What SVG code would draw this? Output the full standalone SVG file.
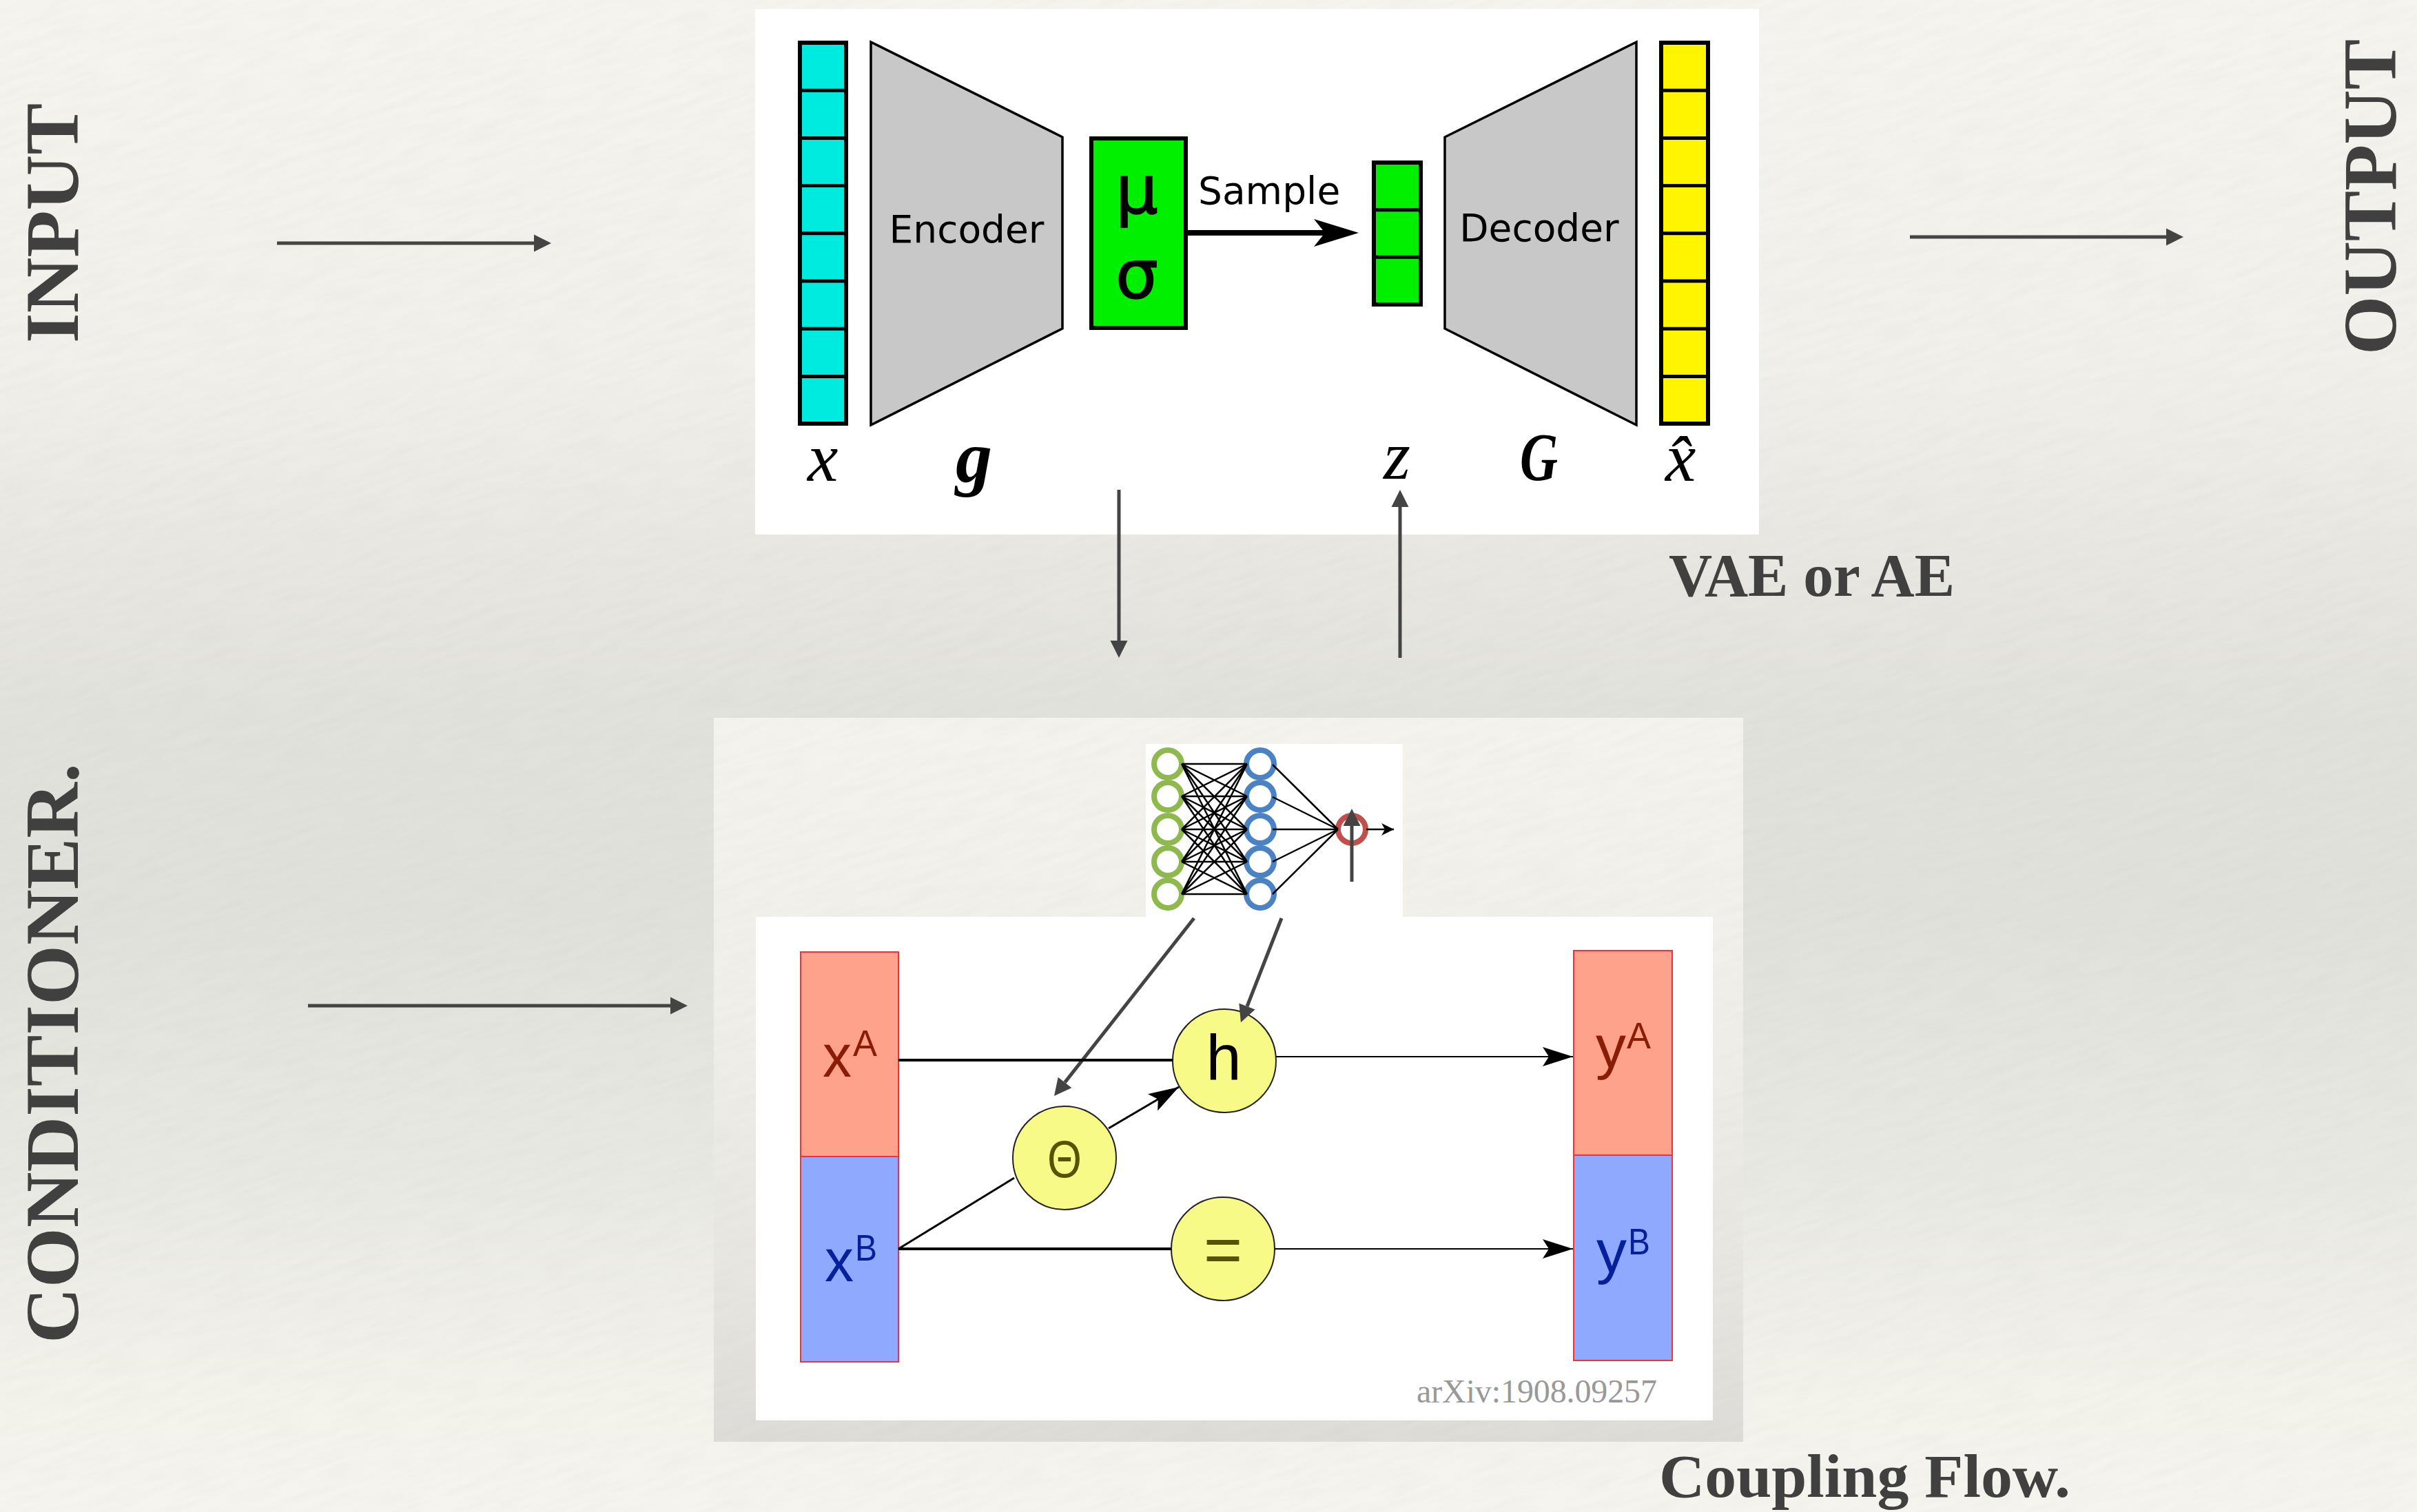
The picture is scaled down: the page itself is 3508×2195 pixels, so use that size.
<svg xmlns="http://www.w3.org/2000/svg" width="3508" height="2195" viewBox="0 0 3508 2195">
<style>
.ser{font-family:"Liberation Serif",serif;fill:#404040;font-weight:bold}
.math{font-family:"Liberation Serif",serif;font-style:italic;fill:#000;font-size:100px}
.dv{font-family:"DejaVu Sans",sans-serif;fill:#000}
.ls{font-family:"Liberation Sans",Arial,sans-serif}
.red{fill:#8a1c05}.blue{fill:#06209c}
.bar{stroke:#000;stroke-width:6}
.trap{fill:#c8c8c8;stroke:#000;stroke-width:3.5}
.div{stroke:#000;stroke-width:5;fill:none}
.cellr{fill:#ffa28c;stroke:#f5303a;stroke-width:2}
.cellb{fill:#8fa9ff;stroke:#f5303a;stroke-width:2}
.yc{fill:#f8fa88;stroke:#222;stroke-width:2}
.gr{stroke:#444;stroke-width:5;fill:none}
.bk{stroke:#000;fill:none}
.nn{fill:#fff;stroke-width:8}
</style>
<defs>
<linearGradient id="bg" gradientUnits="userSpaceOnUse" x1="0" y1="0" x2="0" y2="2195">
<stop offset="0" stop-color="#f5f4ee"/><stop offset=".24" stop-color="#f1f0ea"/><stop offset=".37" stop-color="#e8e7e1"/><stop offset=".47" stop-color="#e2e2dd"/><stop offset=".6" stop-color="#e1e1dc"/><stop offset=".78" stop-color="#e9e9e3"/><stop offset=".92" stop-color="#f3f3ec"/><stop offset="1" stop-color="#f5f4ee"/>
</linearGradient>
<linearGradient id="panel" gradientUnits="userSpaceOnUse" x1="0" y1="1042" x2="0" y2="2093">
<stop offset="0" stop-color="#f4f3ed"/><stop offset=".4" stop-color="#f0efe9"/><stop offset=".8" stop-color="#e6e5df"/><stop offset="1" stop-color="#dedcd8"/>
</linearGradient>
<filter id="paper" x="0" y="0" width="100%" height="100%" color-interpolation-filters="sRGB">
<feTurbulence type="fractalNoise" baseFrequency="0.015 0.1" numOctaves="3" seed="4"/>
<feColorMatrix type="matrix" values="0 0 0 0 .45  0 0 0 0 .45  0 0 0 0 .42  .06 0 0 0 -.02"/>
</filter>
<clipPath id="page"><rect width="3508" height="2195"/></clipPath>
<marker id="tri" markerUnits="userSpaceOnUse" markerWidth="26" markerHeight="26" refX="0" refY="13" orient="auto" overflow="visible"><path d="M0 0.5L25 13L0 25.5z" fill="#444"/></marker>
<marker id="sample" markerUnits="userSpaceOnUse" markerWidth="70" markerHeight="44" refX="16" refY="22" orient="auto" overflow="visible"><path d="M0 2L65 22L0 42L16 22z" fill="#000"/></marker>
<marker id="stealth" markerUnits="userSpaceOnUse" markerWidth="46" markerHeight="30" refX="44" refY="15" orient="auto" overflow="visible"><path d="M0 1L44 15L0 29L9 15z" fill="#000"/></marker>
<marker id="small" markerUnits="userSpaceOnUse" markerWidth="20" markerHeight="20" refX="18" refY="10" orient="auto" overflow="visible"><path d="M0 1L18 10L0 19L5 10z" fill="#000"/></marker>
</defs>

<rect width="3508" height="2195" fill="url(#bg)"/>
<rect x="1036" y="1042" width="1494" height="1051" fill="url(#panel)"/>
<g clip-path="url(#page)"><rect x="-700" y="-1000" width="4900" height="4200" filter="url(#paper)" transform="rotate(-18 1754 1097)"/></g>

<g id="vae-panel"><rect x="1096" y="13" width="1457" height="763" fill="#fff"/></g>
<g id="node-x">
<rect class="bar" x="1161" y="62" width="67" height="553" fill="#00ebe0"/>
<path class="div" d="M1161 131.2H1228M1161 200.4H1228M1161 269.6H1228M1161 338.8H1228M1161 408H1228M1161 477.2H1228M1161 546.4H1228"/>
<text class="math" x="1172" y="698">x</text>
</g>
<g id="node-encoder">
<path class="trap" d="M1264 61L1542 199V477L1264 617z"/>
<text class="dv" x="1403" y="352" font-size="55" text-anchor="middle">Encoder</text>
<text class="math" x="1387" y="699" style="font-size:106px" font-weight="bold">g</text>
</g>
<g id="node-mu-sigma">
<rect class="bar" x="1584" y="201" width="137" height="275" fill="#00f000"/>
<text class="dv" x="1650" y="310" font-size="98" text-anchor="middle" textLength="62" lengthAdjust="spacingAndGlyphs" stroke="#000" stroke-width="1.5">μ</text>
<text class="dv" x="1650" y="433" font-size="98" text-anchor="middle" textLength="62" lengthAdjust="spacingAndGlyphs" stroke="#000" stroke-width="1.5">σ</text>
</g>
<g id="label-sample"><text class="dv" x="1739" y="296" font-size="55">Sample</text></g>
<g id="node-z">
<rect class="bar" x="1994" y="236" width="68" height="206" fill="#00f000"/>
<path class="div" d="M1994 304.7H2062M1994 373.3H2062"/>
<text class="math" x="2008" y="695">z</text>
</g>
<g id="node-decoder">
<path class="trap" d="M2375 61L2097 199V477L2375 617z"/>
<text class="dv" x="2234" y="350" font-size="55" text-anchor="middle">Decoder</text>
<text class="math" x="2206" y="697" font-weight="bold" textLength="55" lengthAdjust="spacingAndGlyphs">G</text>
</g>
<g id="node-xhat">
<rect class="bar" x="2411" y="62" width="68" height="553" fill="#fff500"/>
<path class="div" d="M2411 131.2H2479M2411 200.4H2479M2411 269.6H2479M2411 338.8H2479M2411 408H2479M2411 477.2H2479M2411 546.4H2479"/>
<text class="math" x="2417" y="698">x̂</text>
</g>

<g id="label-input"><text class="ser" transform="translate(113 498) rotate(-90)" font-size="110" textLength="348" lengthAdjust="spacingAndGlyphs">INPUT</text></g>
<g id="label-output"><text class="ser" transform="translate(3477 515) rotate(-90)" font-size="110" textLength="458" lengthAdjust="spacingAndGlyphs">OUTPUT</text></g>
<g id="label-conditioner"><text class="ser" transform="translate(113 1950) rotate(-90)" font-size="110" textLength="842" lengthAdjust="spacingAndGlyphs">CONDITIONER.</text></g>
<g id="label-vae"><text class="ser" x="2422" y="865" font-size="88" textLength="415" lengthAdjust="spacingAndGlyphs">VAE or AE</text></g>
<g id="label-coupling"><text class="ser" x="2408" y="2173" font-size="88" textLength="597" lengthAdjust="spacingAndGlyphs">Coupling Flow.</text></g>

<g id="coupling-panel">
<rect x="1097" y="1331" width="1389" height="731" fill="#fff"/>
<rect x="1663" y="1080" width="373" height="251" fill="#fff"/>
<text x="2056" y="2036" style="font-family:'Liberation Serif',serif" font-size="48" fill="#999" textLength="349">arXiv:1908.09257</text>
</g>

<g id="nn-input" class="nn" stroke="#8fb84e">
<circle cx="1695" cy="1109" r="20"/><circle cx="1695" cy="1156" r="20"/><circle cx="1695" cy="1204" r="20"/><circle cx="1695" cy="1251" r="20"/><circle cx="1695" cy="1298" r="20"/>
</g>
<g id="nn-hidden" class="nn" stroke="#4a82c3">
<circle cx="1829" cy="1109" r="20"/><circle cx="1829" cy="1156" r="20"/><circle cx="1829" cy="1204" r="20"/><circle cx="1829" cy="1251" r="20"/><circle cx="1829" cy="1298" r="20"/>
</g>
<g id="nn-output" class="nn" stroke="#c0504d"><circle cx="1962" cy="1204" r="20"/></g>

<g id="node-xA"><rect class="cellr" x="1162" y="1382" width="142" height="297"/>
<text class="ls red" x="1194" y="1563" font-size="88" textLength="42" lengthAdjust="spacingAndGlyphs">x</text><text class="ls red" x="1238" y="1533" font-size="54" textLength="35" lengthAdjust="spacingAndGlyphs">A</text></g>
<g id="node-xB"><rect class="cellb" x="1162" y="1679" width="142" height="298"/>
<text class="ls blue" x="1197" y="1860" font-size="88" textLength="42" lengthAdjust="spacingAndGlyphs">x</text><text class="ls blue" x="1241" y="1830" font-size="54" textLength="32" lengthAdjust="spacingAndGlyphs">B</text></g>
<g id="node-yA"><rect class="cellr" x="2284" y="1380" width="143" height="297"/>
<text class="ls red" x="2316" y="1550" font-size="88" textLength="44" lengthAdjust="spacingAndGlyphs">y</text><text class="ls red" x="2361" y="1522" font-size="54" textLength="35" lengthAdjust="spacingAndGlyphs">A</text></g>
<g id="node-yB"><rect class="cellb" x="2284" y="1677" width="143" height="298"/>
<text class="ls blue" x="2317" y="1847" font-size="88" textLength="44" lengthAdjust="spacingAndGlyphs">y</text><text class="ls blue" x="2363" y="1821" font-size="54" textLength="32" lengthAdjust="spacingAndGlyphs">B</text></g>
<g id="node-h"><circle class="yc" cx="1777" cy="1540" r="75"/><text class="ls" x="1776" y="1567" font-size="92" text-anchor="middle" fill="#000">h</text></g>
<g id="node-theta"><circle class="yc" cx="1545" cy="1681" r="75"/><text class="ls" x="1545" y="1709" font-size="76" text-anchor="middle" fill="#555500" textLength="50" lengthAdjust="spacingAndGlyphs">Θ</text></g>
<g id="node-eq"><circle class="yc" cx="1775" cy="1813" r="75"/><text class="ls" x="1775" y="1847" font-size="96" text-anchor="middle" fill="#555500">=</text></g>

<g id="connectors">
<path class="gr" d="M402 353H775" marker-end="url(#tri)"/>
<path class="gr" d="M2772 344H3144" marker-end="url(#tri)"/>
<path class="gr" d="M447 1460H973" marker-end="url(#tri)"/>
<path class="gr" d="M1624 711V930" marker-end="url(#tri)"/>
<path class="gr" d="M2032 955V736" marker-end="url(#tri)"/>
<path class="bk" stroke-width="8" d="M1723 338H1923" marker-end="url(#sample)"/>
<path class="bk" stroke-width="2.5" d="M1715 1109L1810 1109M1715 1109L1810 1156M1715 1109L1810 1204M1715 1109L1810 1251M1715 1109L1810 1298M1715 1156L1810 1109M1715 1156L1810 1156M1715 1156L1810 1204M1715 1156L1810 1251M1715 1156L1810 1298M1715 1204L1810 1109M1715 1204L1810 1156M1715 1204L1810 1204M1715 1204L1810 1251M1715 1204L1810 1298M1715 1251L1810 1109M1715 1251L1810 1156M1715 1251L1810 1204M1715 1251L1810 1251M1715 1251L1810 1298M1715 1298L1810 1109M1715 1298L1810 1156M1715 1298L1810 1204M1715 1298L1810 1251M1715 1298L1810 1298"/>
<path class="bk" stroke-width="2.5" d="M1847 1110L1942 1204M1847 1157L1942 1204M1847 1204L1942 1204M1847 1251L1942 1204M1847 1298L1942 1204"/>
<path class="bk" stroke-width="2.5" d="M1983 1204H2023" marker-end="url(#small)"/>
<path class="gr" d="M1962 1280V1199" marker-end="url(#tri)"/>
<path class="gr" d="M1733 1333L1545.5 1571.4" marker-end="url(#tri)"/>
<path class="gr" d="M1860 1333L1810 1461" marker-end="url(#tri)"/>
<path class="bk" stroke-width="4" d="M1304 1539H1702"/>
<path class="bk" stroke-width="2" d="M1852 1534H2283" marker-end="url(#stealth)"/>
<path class="bk" stroke-width="4" d="M1304 1813H1700"/>
<path class="bk" stroke-width="2" d="M1850 1813H2283" marker-end="url(#stealth)"/>
<path class="bk" stroke-width="3" d="M1304 1813L1472 1710"/>
<path class="bk" stroke-width="3" d="M1609 1638L1711 1578" marker-end="url(#stealth)"/>
</g>
</svg>
